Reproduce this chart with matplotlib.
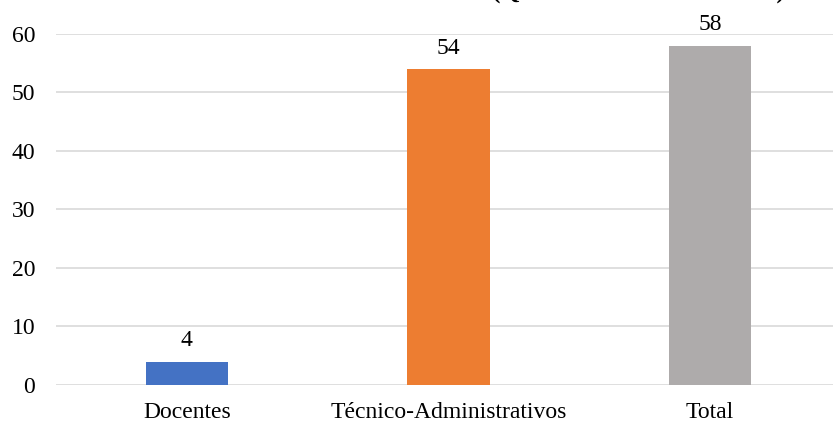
import matplotlib

matplotlib.use("Agg")
import matplotlib.pyplot as plt

# Servidores por categoria
categorias = ["Docentes", "Técnico-Administrativos", "Total"]
quantidades = [4, 54, 58]
cores = ["#4472C4", "#ED7D31", "#AEABAB"]
yticks = [0, 10, 20, 30, 40, 50, 60]
titulo = "(Quantidade de servidores)"

plt.rcParams["font.family"] = ["Liberation Serif", "DejaVu Serif"]

fig = plt.figure(figsize=(8.33, 4.23), dpi=100)
ax = fig.add_axes([0.0672, 0.090, 0.9424, 0.830])

x = range(len(categorias))
ax.bar(x, quantidades, width=0.314, color=cores, zorder=3)

for xi, v in zip(x, quantidades):
    ax.annotate(str(v), (xi, v), xytext=(0, 7.5), textcoords="offset points",
                ha="center", va="bottom", fontsize=17)

ax.set_xlim(-0.5, 2.5)
ax.set_ylim(0, 60)
ax.set_yticks(yticks)
ax.set_xticks(list(x))
ax.set_xticklabels(categorias, fontsize=17)
ax.tick_params(axis="y", labelsize=17, length=0, pad=15)
ax.tick_params(axis="x", length=0, pad=12.5)
ax.grid(axis="y", color="#D9D9D9", linewidth=1.2, zorder=0)
for s in ax.spines.values():
    s.set_visible(False)

# título cortado na borda superior
fig.text(492 / 833, 1.0 + 2 / 423, titulo, ha="left", va="baseline",
         fontsize=18.2, fontweight="bold")

fig.savefig("out.png", dpi=100)
